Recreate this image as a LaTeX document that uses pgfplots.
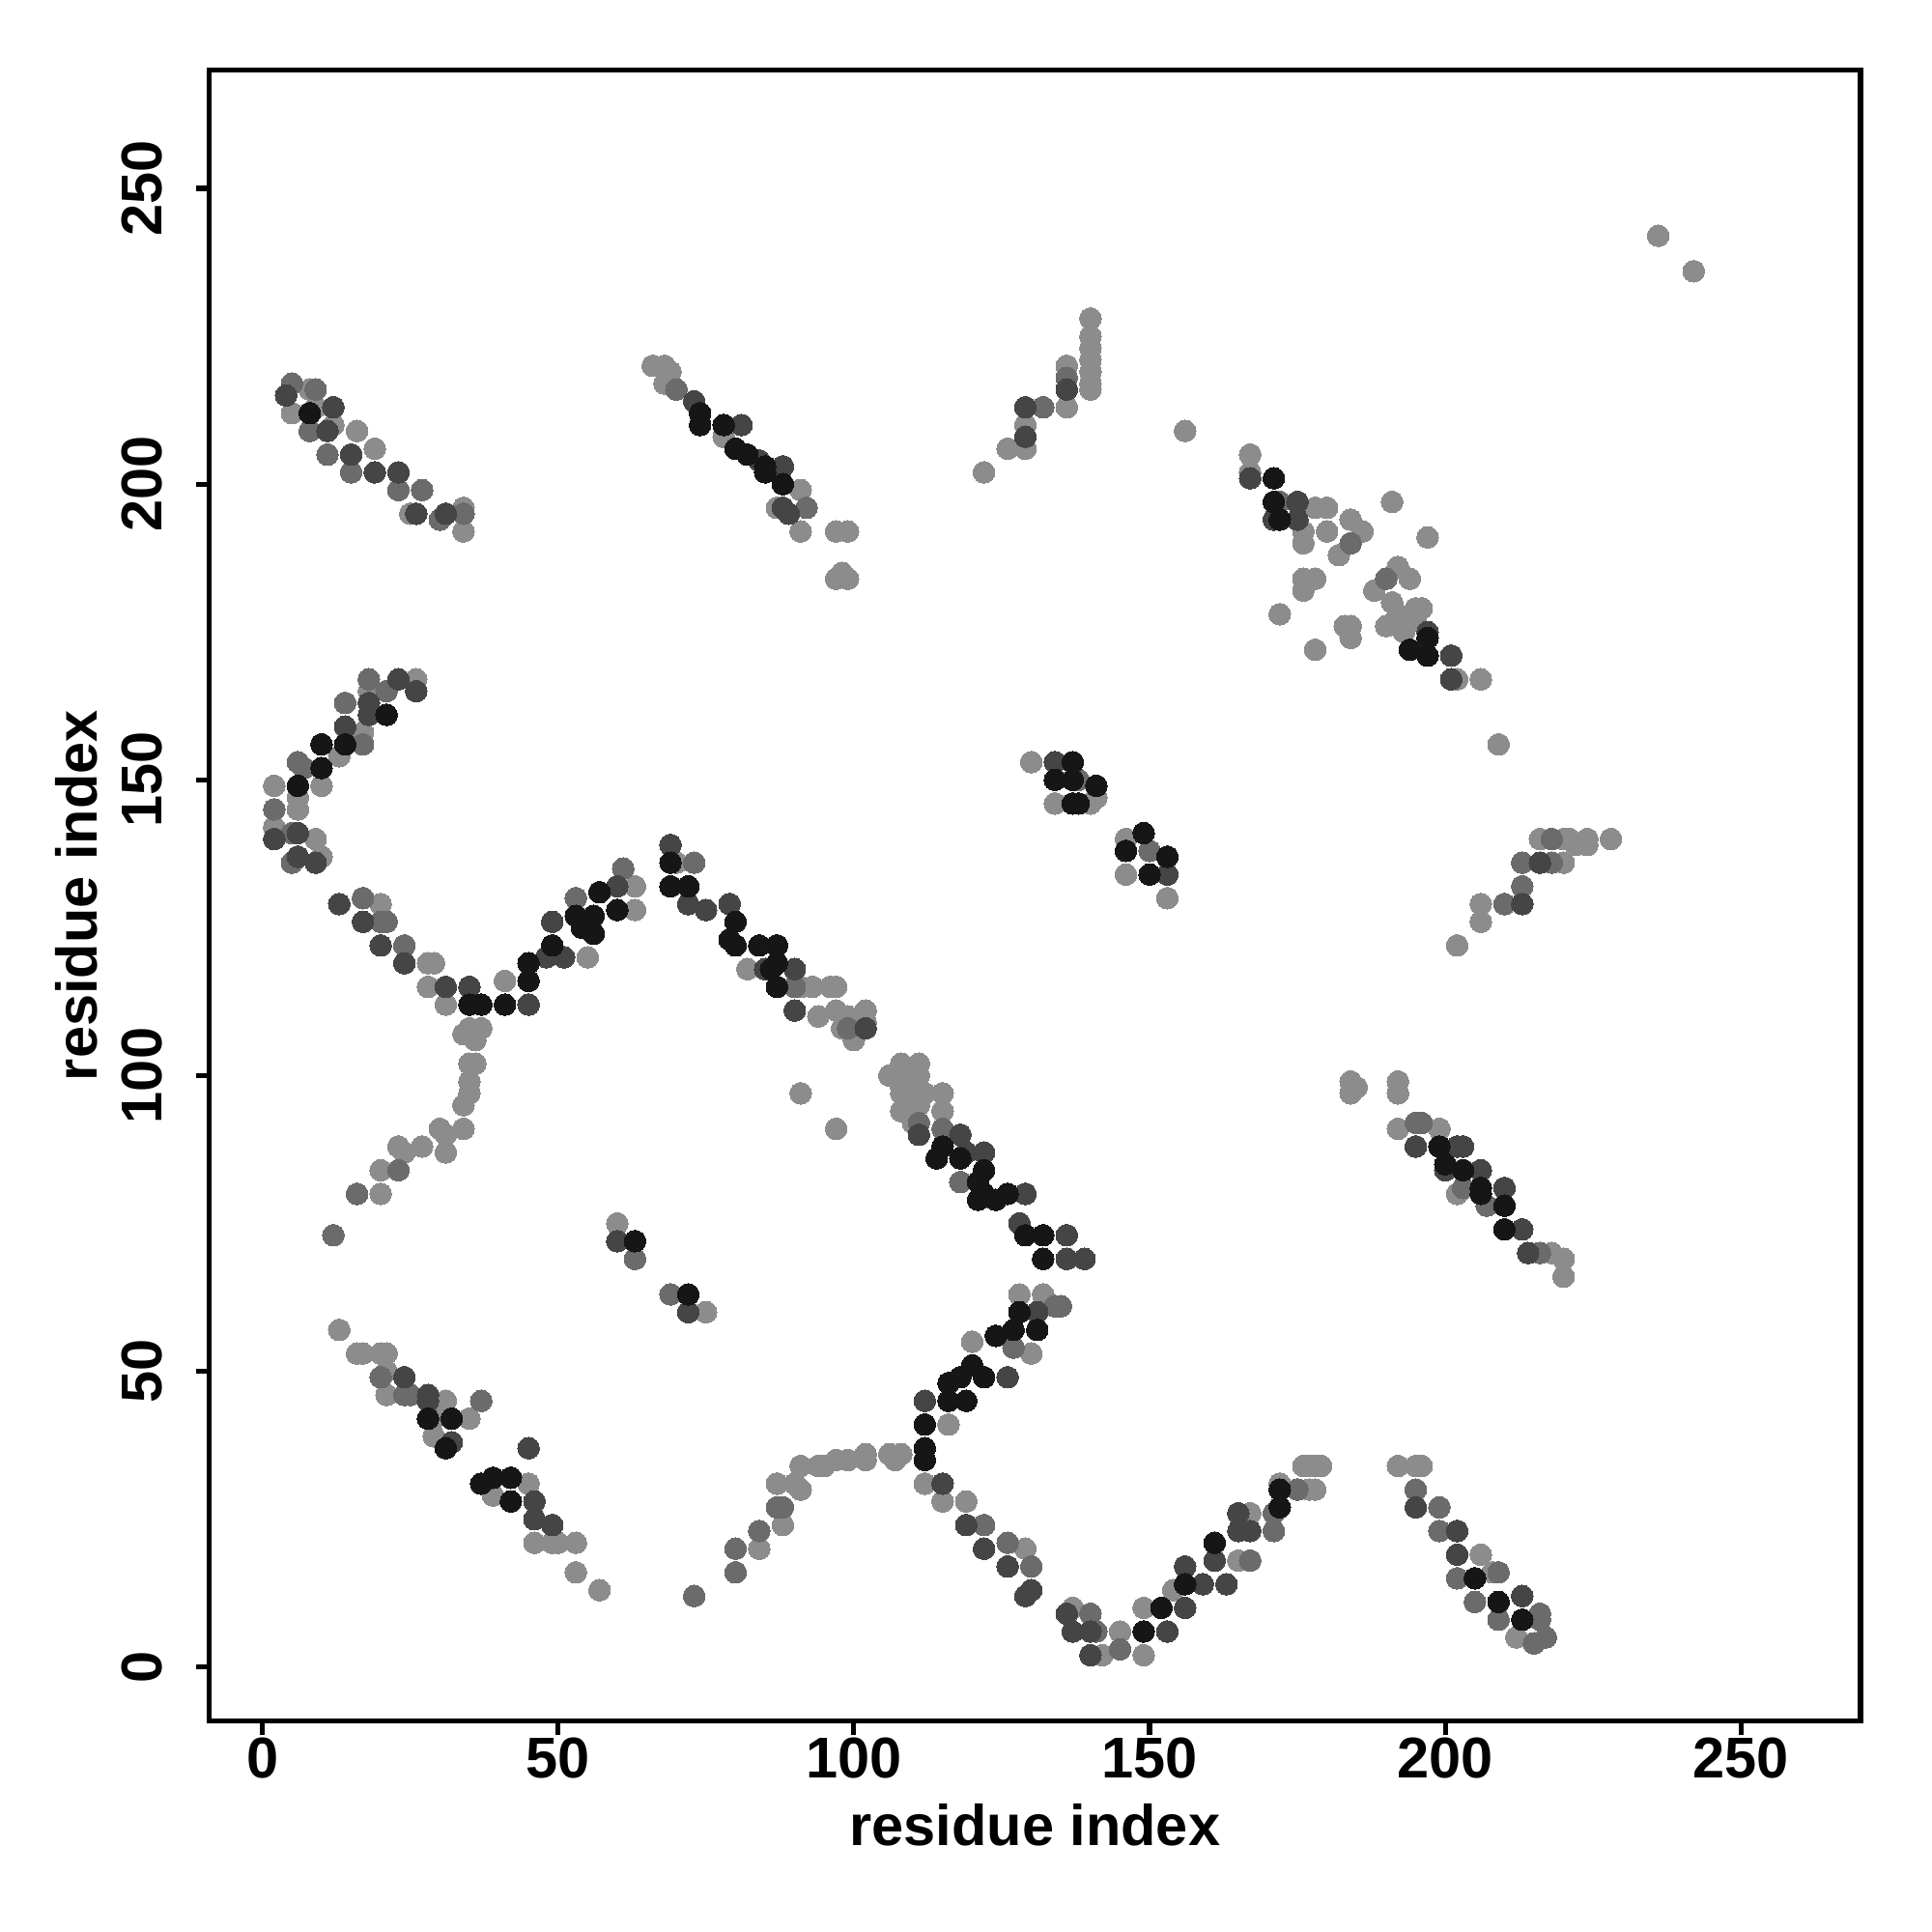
\documentclass[border=0pt]{standalone}
\usepackage{pgfplots}
\pgfplotsset{compat=1.18}
\usepackage{fontspec}
\setmainfont{Liberation Sans}
\definecolor{cL}{HTML}{8C8C8C}
\definecolor{cM}{HTML}{6B6B6B}
\definecolor{cD}{HTML}{454545}
\definecolor{cK}{HTML}{161616}
\begin{document}
\begin{tikzpicture}
\begin{axis}[name=ax,
  scale only axis, width=12.82cm, height=12.82cm,
  xmin=-8.96, xmax=270.2, ymin=-9.17, ymax=270,
  axis line style={line width=1.1pt},
  every tick/.style={line width=1.1pt, black},
  tick align=outside, major tick length=3pt, tick pos=left,
  xtick={0,50,100,150,200,250}, ytick={0,50,100,150,200,250},
  /pgf/number format/assume math mode=true,
  tick label style={font=\fontsize{12.7}{15}\selectfont\bfseries},
  xticklabel style={anchor=base, yshift=-9.5pt},
  yticklabel style={xshift=-7.5pt, rotate=90, anchor=base},
  every axis x label/.style={at={(axis description cs:0.5,-0.0754)}, anchor=base},
  every axis y label/.style={at={(axis description cs:-0.0679,0.5)}, rotate=90, anchor=base},
  label style={font=\fontsize{12.7}{15}\selectfont\bfseries},
  xlabel={residue index}, ylabel={residue index},
  every axis plot/.append style={only marks, mark=*, mark size=2.4pt, mark options={line width=0pt}},
]
% light
\addplot[color=cL] coordinates {
(5,212)(8,216)(9,213)(12,210)(16,209)(19,206)(34,196)(34,192)(25,195)
(66,220)(68,220)(69,219)(68,217)(78,208)(87,196)(91,199)(91,192)(97,192)(99,192)(97,184)(99,184)(98,185)
(140,228)(140,225)(140,223)(140,221)(140,219)(140,217)(140,216)(136,220)(136,213)(129,210)(126,206)(129,206)(122,202)(156,209)
(167,205)(167,202)(178,196)(180,196)(176,192)(176,190)(180,192)(184,194)(186,192)(182,188)(191,197)(197,191)
(176,184)(178,184)(176,182)(172,178)(178,172)(183,176)(184,176)(184,174)(188,182)(192,186)(194,184)(191,180)
(192,178)(190,176)(193,175)(195,179)(196,179)(195,177)(202,167)(206,167)(236,242)(242,236)
(209,156)(216,140)(220,140)(221,140)(224,140)(224,139)(228,140)(220,136)(206,129)(206,126)(202,122)(218,140)(222,139)
(184,99)(185,98)(184,97)(192,99)(192,97)(192,91)(199,91)
(218,70)(220,69)(220,66)(207,78)(202,80)
(178,34)(177,34)(179,34)(177,30)(172,31)(192,34)(195,34)(196,34)(206,19)(208,16)(212,5)(176,34)
(137,10)(149,10)(142,2)(145,6)(149,2)(154,13)(165,18)(167,26)(178,30)
(128,63)(132,63)(130,53)(120,55)(116,41)(108,36)(107,35)(106,36)(102,36)(102,35)(99,35)(97,35)(95,34)(94,34)(91,34)
(87,31)(90,31)(91,30)(88,24)(112,31)(115,28)(119,28)(129,20)
(20,84)(20,80)(13,57)(16,53)(17,53)(20,53)(21,53)(21,50)(21,46)(31,45)(29,42)(35,42)(29,39)(39,29)(45,31)
(46,21)(49,21)(50,21)(53,21)(53,16)(57,13)(60,75)(75,60)(84,20)
(26,167)(18,165)(17,158)(10,156)(13,154)(2,149)(10,149)(6,147)(6,145)(2,142)(9,140)(10,137)(20,129)(28,119)(29,119)
(28,115)(31,112)(35,108)(37,108)(34,107)(36,106)(35,102)(36,102)(35,99)(35,97)(34,95)(34,91)(30,91)(31,90)(31,87)
(27,88)(23,88)(24,87)(41,116)(55,120)(63,128)(63,132)(70,136)(82,118)
(130,153)(134,146)(140,146)(141,147)(146,140)(146,134)(153,130)(93,115)(96,115)(97,115)(91,115)
(94,110)(97,111)(98,108)(100,106)(102,111)(102,109)(99,110)(108,102)(111,102)(106,100)(108,98)(108,97)(109,97)(111,100)
(108,94)(111,95)(115,97)(115,94)(91,97)(97,91)(110,99)(112,97)(109,101)(110,92)
};
% mid
\addplot[color=cM] coordinates {
(5,217)(9,216)(8,209)(11,205)(15,202)(23,199)(27,199)(34,195)(30,194)
(70,216)(92,196)
(136,218)(132,213)
(172,197)(184,190)(190,184)
(218,140)(213,136)(218,136)(213,132)(210,129)
(196,92)(195,88)
(195,92)(203,81)(207,78)(216,70)
(175,30)(171,26)(171,23)(195,30)(199,27)(199,23)(202,15)(209,16)(205,11)(209,8)(216,9)(216,8)(215,4)(217,5)
(118,82)(135,61)(134,61)(127,54)(88,27)(122,24)(126,21)(130,17)(140,9)(141,6)(145,3)(167,18)
(23,84)(16,80)(12,73)(63,69)(69,63)(20,49)(24,46)(25,46)(37,45)(73,12)(80,20)(80,16)(84,23)(87,27)
(18,167)(21,165)(14,163)(17,156)(6,153)(7,152)(2,145)(5,141)(5,136)(17,130)(20,126)(21,126)(24,122)(53,130)(61,135)(73,136)
(138,150)(150,138)(90,115)(99,108)(111,92)(115,91)
};
% dark
\addplot[color=cD] coordinates {
(4,215)(12,213)(11,209)(15,205)(19,202)(23,202)(26,195)(31,195)
(73,214)(81,210)(84,204)(88,203)(89,195)(88,196)
(136,216)(129,213)(129,208)
(167,201)(175,197)(171,194)(175,194)(197,175)(194,172)(201,167)(201,171)
(216,136)(213,129)
(203,88)
(195,88)(202,88)(203,84)(210,81)(210,78)(213,74)(214,70)(200,84)(206,84)
(195,27)(202,23)(202,19)(213,12)
(129,80)(128,75)(136,73)(136,69)(139,69)(131,60)(126,49)(112,45)(115,31)(119,24)(122,20)(126,17)(130,13)(129,12)
(136,9)(137,6)(140,6)(140,2)(153,6)(156,10)(156,17)(159,14)(161,18)(163,14)(165,26)(165,23)(167,23)
(24,49)(28,46)(28,45)(32,38)(45,37)(46,28)(46,25)(49,24)(60,72)(72,60)
(23,167)(26,165)(18,161)(18,163)(14,159)(2,140)(6,141)(6,137)(9,136)(13,129)(17,126)(20,122)(24,119)(31,115)(35,115)
(45,112)(48,120)(51,120)(49,126)(60,132)(69,139)(72,129)(75,128)(79,129)(87,122)(85,118)
(134,153)(153,134)(90,118)(90,111)(102,108)(111,90)(118,90)(119,87)(122,87)
};
% black
\addplot[color=cK] coordinates {
(8,212)
(74,212)(74,210)(78,210)(80,206)(82,205)(85,203)(85,202)(88,200)
(171,201)(171,197)(172,194)(197,171)(194,172)(197,174)
(199,88)(200,85)(203,84)(206,81)(206,80)(210,78)(210,74)
(172,30)(172,27)(205,15)(209,11)(213,8)
(114,86)(118,86)(122,84)(121,82)(122,80)(121,79)(124,79)(126,80)(129,73)(132,73)(132,69)(128,60)(124,56)(127,57)
(131,57)(120,51)(122,49)(118,49)(116,48)(119,45)(116,45)(112,41)(112,37)(112,35)(149,6)(152,10)(156,14)(161,21)
(63,72)(72,63)(28,42)(32,42)(31,37)(37,31)(39,32)(42,32)(42,28)
(21,161)(10,156)(14,156)(10,152)(6,149)(45,116)(45,119)(49,122)(53,127)(54,125)(56,124)(56,127)(57,131)(60,128)
(69,136)(69,132)(72,132)(80,126)(79,123)(80,122)(84,122)(86,118)(87,115)(35,112)(37,112)(41,112)
(137,153)(134,150)(137,150)(141,149)(137,146)(138,146)(149,141)(146,138)(153,137)(150,134)(87,122)(87,119)(87,115)(115,88)
};
\end{axis}
\pgfresetboundingbox
\path ([xshift=-1.626cm,yshift=-1.636cm]ax.south west) rectangle ([xshift=0.555cm,yshift=0.545cm]ax.north east);
\end{tikzpicture}
\end{document}
